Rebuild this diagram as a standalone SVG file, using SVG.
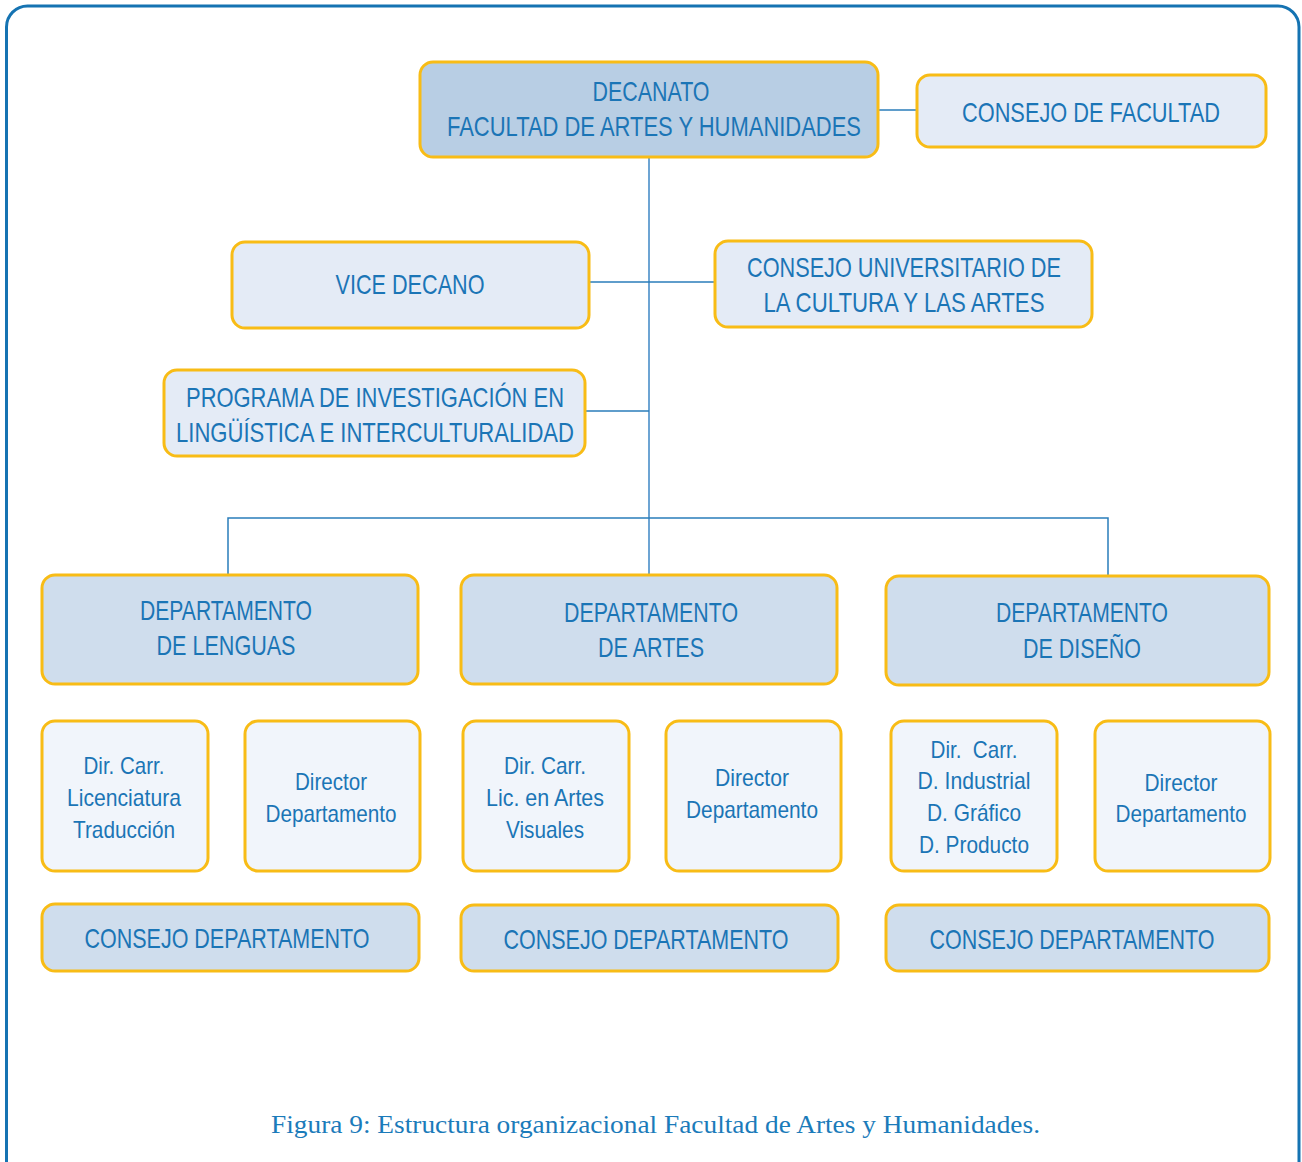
<svg xmlns="http://www.w3.org/2000/svg" width="1302" height="1162" viewBox="0 0 1302 1162">
<style>
.box{stroke:#F8BC16;stroke-width:3}
.d1{fill:#B8CEE4}
.d2{fill:#CFDDED}
.d3{fill:#E4EBF6}
.d4{fill:#F1F5FB}
.t{font-family:"Liberation Sans Narrow","Liberation Sans",Arial,sans-serif;fill:#1B75B6;text-anchor:middle}
.big{font-size:28px}
.sm{font-size:24px}
.cap{font-family:"Liberation Serif","DejaVu Serif",serif;font-size:26px;fill:#1B7BBA}
.ln{stroke:#2A7DBA;stroke-width:1.5;fill:none}
.tr{stroke:#6DA4D3;stroke-width:2;fill:none}
</style>
<rect width="1302" height="1162" fill="#fff"/>
<path d="M6.5 1175 V27 A21 21 0 0 1 27.5 6 H1278 A21 21 0 0 1 1299 27 V1175" fill="none" stroke="#1573B2" stroke-width="3"/>
<g id="connectors">
<line class="tr" x1="649" y1="157" x2="649" y2="575"/>
<line class="ln" x1="878" y1="110" x2="917" y2="110"/>
<line class="ln" x1="589" y1="282" x2="715" y2="282"/>
<line class="ln" x1="585" y1="411" x2="649" y2="411"/>
<polyline class="ln" points="228,575 228,518 1108,518 1108,576"/>
</g>
<g id="decanato"><rect class="box d1" x="420" y="62" width="458" height="95" rx="13"/>
<text class="t big" x="651" y="101" textLength="117" lengthAdjust="spacingAndGlyphs">DECANATO</text>
<text class="t big" x="654" y="136" textLength="414" lengthAdjust="spacingAndGlyphs">FACULTAD DE ARTES Y HUMANIDADES</text></g>
<g id="consejo-facultad"><rect class="box d3" x="917" y="75" width="349" height="72" rx="13"/>
<text class="t big" x="1091" y="122" textLength="258" lengthAdjust="spacingAndGlyphs">CONSEJO DE FACULTAD</text></g>
<g id="vice-decano"><rect class="box d3" x="232" y="242" width="357" height="86" rx="13"/>
<text class="t big" x="410" y="294" textLength="149" lengthAdjust="spacingAndGlyphs">VICE DECANO</text></g>
<g id="consejo-universitario"><rect class="box d3" x="715" y="241" width="377" height="86" rx="13"/>
<text class="t big" x="904" y="277" textLength="314" lengthAdjust="spacingAndGlyphs">CONSEJO UNIVERSITARIO DE</text>
<text class="t big" x="904" y="312" textLength="281" lengthAdjust="spacingAndGlyphs">LA CULTURA Y LAS ARTES</text></g>
<g id="programa"><rect class="box d3" x="164" y="370" width="421" height="86" rx="13"/>
<text class="t big" x="375" y="407" textLength="378" lengthAdjust="spacingAndGlyphs">PROGRAMA DE INVESTIGACIÓN EN</text>
<text class="t big" x="375" y="442" textLength="398" lengthAdjust="spacingAndGlyphs">LINGÜÍSTICA E INTERCULTURALIDAD</text></g>
<g id="dep-lenguas"><rect class="box d2" x="42" y="575" width="376" height="109" rx="13"/>
<text class="t big" x="226" y="620" textLength="172" lengthAdjust="spacingAndGlyphs">DEPARTAMENTO</text>
<text class="t big" x="226" y="655" textLength="139" lengthAdjust="spacingAndGlyphs">DE LENGUAS</text></g>
<g id="dep-artes"><rect class="box d2" x="461" y="575" width="376" height="109" rx="13"/>
<text class="t big" x="651" y="622" textLength="174" lengthAdjust="spacingAndGlyphs">DEPARTAMENTO</text>
<text class="t big" x="651" y="657" textLength="106" lengthAdjust="spacingAndGlyphs">DE ARTES</text></g>
<g id="dep-diseno"><rect class="box d2" x="886" y="576" width="383" height="109" rx="13"/>
<text class="t big" x="1082" y="622" textLength="172" lengthAdjust="spacingAndGlyphs">DEPARTAMENTO</text>
<text class="t big" x="1082" y="658" textLength="118" lengthAdjust="spacingAndGlyphs">DE DISEÑO</text></g>
<g id="dir-carr-lenguas"><rect class="box d4" x="42" y="721" width="166" height="150" rx="13"/>
<text class="t sm" x="124" y="774" textLength="81" lengthAdjust="spacingAndGlyphs">Dir. Carr.</text>
<text class="t sm" x="124" y="806" textLength="114" lengthAdjust="spacingAndGlyphs">Licenciatura</text>
<text class="t sm" x="124" y="838" textLength="102" lengthAdjust="spacingAndGlyphs">Traducción</text></g>
<g id="director-lenguas"><rect class="box d4" x="245" y="721" width="175" height="150" rx="13"/>
<text class="t sm" x="331" y="790" textLength="72" lengthAdjust="spacingAndGlyphs">Director</text>
<text class="t sm" x="331" y="822" textLength="131" lengthAdjust="spacingAndGlyphs">Departamento</text></g>
<g id="dir-carr-artes"><rect class="box d4" x="463" y="721" width="166" height="150" rx="13"/>
<text class="t sm" x="545" y="774" textLength="82" lengthAdjust="spacingAndGlyphs">Dir. Carr.</text>
<text class="t sm" x="545" y="806" textLength="118" lengthAdjust="spacingAndGlyphs">Lic. en Artes</text>
<text class="t sm" x="545" y="838" textLength="78" lengthAdjust="spacingAndGlyphs">Visuales</text></g>
<g id="director-artes"><rect class="box d4" x="666" y="721" width="175" height="150" rx="13"/>
<text class="t sm" x="752" y="786" textLength="74" lengthAdjust="spacingAndGlyphs">Director</text>
<text class="t sm" x="752" y="818" textLength="132" lengthAdjust="spacingAndGlyphs">Departamento</text></g>
<g id="dir-carr-diseno"><rect class="box d4" x="891" y="721" width="166" height="150" rx="13"/>
<text class="t sm" x="974" y="758" textLength="87" lengthAdjust="spacingAndGlyphs" xml:space="preserve">Dir.  Carr.</text>
<text class="t sm" x="974" y="789" textLength="113" lengthAdjust="spacingAndGlyphs">D. Industrial</text>
<text class="t sm" x="974" y="821" textLength="94" lengthAdjust="spacingAndGlyphs">D. Gráfico</text>
<text class="t sm" x="974" y="853" textLength="110" lengthAdjust="spacingAndGlyphs">D. Producto</text></g>
<g id="director-diseno"><rect class="box d4" x="1095" y="721" width="175" height="150" rx="13"/>
<text class="t sm" x="1181" y="791" textLength="73" lengthAdjust="spacingAndGlyphs">Director</text>
<text class="t sm" x="1181" y="822" textLength="131" lengthAdjust="spacingAndGlyphs">Departamento</text></g>
<g id="consejo-lenguas"><rect class="box d2" x="42" y="904" width="377" height="67" rx="13"/>
<text class="t big" x="227" y="948" textLength="285" lengthAdjust="spacingAndGlyphs">CONSEJO DEPARTAMENTO</text></g>
<g id="consejo-artes"><rect class="box d2" x="461" y="905" width="377" height="66" rx="13"/>
<text class="t big" x="646" y="949" textLength="285" lengthAdjust="spacingAndGlyphs">CONSEJO DEPARTAMENTO</text></g>
<g id="consejo-diseno"><rect class="box d2" x="886" y="905" width="383" height="66" rx="13"/>
<text class="t big" x="1072" y="949" textLength="285" lengthAdjust="spacingAndGlyphs">CONSEJO DEPARTAMENTO</text></g>
<text class="cap" x="271" y="1133" textLength="769" lengthAdjust="spacingAndGlyphs">Figura 9: Estructura organizacional Facultad de Artes y Humanidades.</text>
</svg>
